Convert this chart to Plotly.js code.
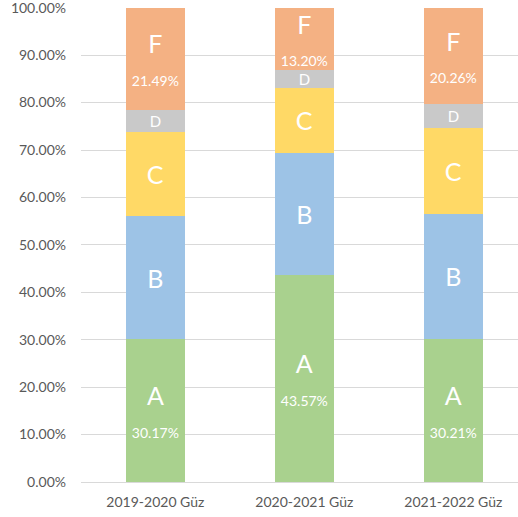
<!DOCTYPE html>
<html>
<head>
<meta charset="utf-8">
<script src="https://cdn.plot.ly/plotly-3.0.1.min.js"></script>
<style>html,body{margin:0;padding:0;background:#fff;}#chart{width:518px;height:517px;}</style>
</head>
<body>
<div id="chart"></div>
<script>
const categories = ['2019-2020 Güz', '2020-2021 Güz', '2021-2022 Güz'];
const gradeA = [30.17, 43.57, 30.21];
const gradeB = [25.83, 25.88, 26.29];
const gradeC = [17.80, 13.55, 18.15];
const gradeD = [4.71, 3.80, 5.09];
const gradeF = [21.49, 13.20, 20.26];
const seriesNames = ['A', 'B', 'C', 'D', 'F'];
const seriesValues = [gradeA, gradeB, gradeC, gradeD, gradeF];
const colors = ['#A9D18E', '#9DC3E6', '#FFD966', '#C9C9C9', '#F4B183'];
const showPct = [true, false, false, false, true];
const letterSize = [25, 25, 25, 15, 25];

const font = 'Lato, "Open Sans", sans-serif';
const traces = seriesNames.map((name, i) => ({
  type: 'bar',
  name: name,
  x: categories,
  y: seriesValues[i],
  width: 0.396,
  marker: {color: colors[i], line: {width: 0}},
  texttemplate: showPct[i]
    ? name + "<br><span style='font-size:14px'>%{y:.2f}%</span>"
    : name,
  textposition: 'inside',
  insidetextanchor: 'middle',
  constraintext: 'none',
  textangle: 0,
  textfont: {color: '#ffffff', size: letterSize[i], family: font},
  hoverinfo: 'skip'
}));

const layout = {
  width: 518,
  height: 517,
  barmode: 'stack',
  showlegend: false,
  paper_bgcolor: '#ffffff',
  plot_bgcolor: '#ffffff',
  margin: {l: 81, r: 0, t: 7, b: 35, pad: 0},
  font: {family: font, color: '#595959', size: 14},
  xaxis: {
    type: 'category',
    range: [-0.499, 2.434],
    showgrid: false,
    zeroline: false,
    showline: false,
    ticks: '',
    ticklabelstandoff: 10,
    tickfont: {size: 14, color: '#595959', family: font},
    fixedrange: true
  },
  yaxis: {
    range: [0, 100.15],
    tickmode: 'linear',
    dtick: 10,
    tick0: 0,
    tickformat: '.2f',
    ticksuffix: '%',
    ticklabeloverflow: 'allow',
    showgrid: true,
    gridcolor: '#D9D9D9',
    gridwidth: 1,
    zeroline: true,
    zerolinecolor: '#D9D9D9',
    zerolinewidth: 1,
    showline: false,
    ticks: '',
    ticklabelstandoff: 14,
    tickfont: {size: 14, color: '#595959', family: font},
    fixedrange: true
  }
};

Plotly.newPlot('chart', traces, layout, {displayModeBar: false, staticPlot: true});
</script>
</body>
</html>
